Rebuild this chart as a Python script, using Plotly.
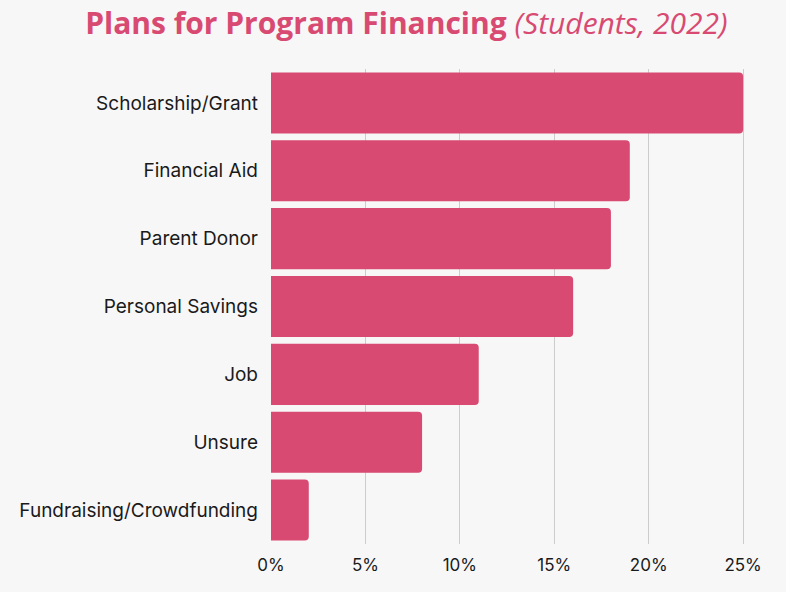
import plotly.graph_objects as go

categories = ["Scholarship/Grant", "Financial Aid", "Parent Donor", "Personal Savings",
              "Job", "Unsure", "Fundraising/Crowdfunding"]
values = [25, 19, 18, 16, 11, 8, 2]
tick_vals = [0, 5, 10, 15, 20, 25]
tick_text = ["0%", "5%", "10%", "15%", "20%", "25%"]

PINK = "#d84a72"

fig = go.Figure(go.Bar(
    x=values, y=categories, orientation="h",
    marker=dict(color=PINK, cornerradius=4, line=dict(width=0)),
    hoverinfo="skip",
))

fig.update_layout(
    width=786, height=592,
    paper_bgcolor="#f7f7f7", plot_bgcolor="#f7f7f7",
    margin=dict(l=271, r=41, t=69, b=48),
    bargap=0.1,
    showlegend=False,
    title=dict(
        text="<b>Plans for Program Financing</b> <i>(Students, 2022)</i>",
        x=0.517, xanchor="center", y=0.96, yanchor="middle",
        font=dict(family="Open Sans", size=30, color=PINK),
    ),
    xaxis=dict(
        range=[0, 25.1], tickvals=tick_vals, ticktext=tick_text,
        showgrid=True, gridcolor="#cccccc", gridwidth=1, zeroline=False,
        showline=False, ticks="", ticklabelstandoff=9,
        tickfont=dict(family="Inter", size=17, color="#1a1a1a"),
    ),
    yaxis=dict(
        autorange="reversed", showgrid=False, zeroline=False, showline=False, ticks="",
        ticklabelstandoff=12,
        tickfont=dict(family="Inter", size=19, color="#1a1a1a"),
    ),
)

fig.write_html(
    "out.html",
    config={"displayModeBar": False},
    post_script="document.body.style.margin='0';document.body.style.overflow='hidden';",
)
